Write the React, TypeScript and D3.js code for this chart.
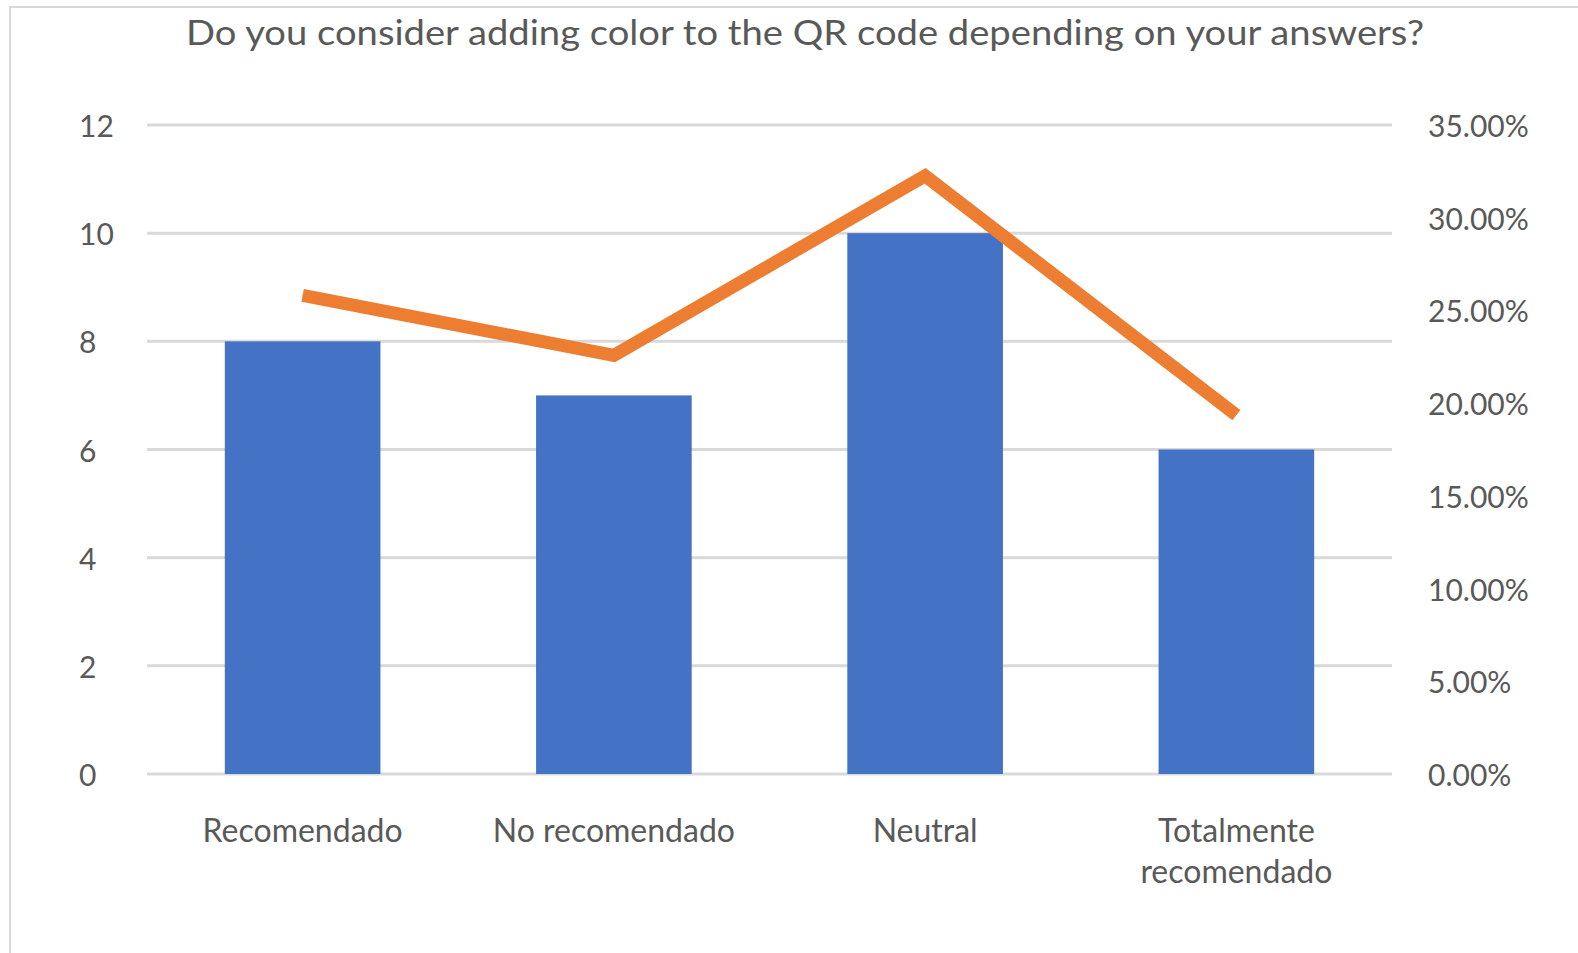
import React from "react";
import * as d3 from "d3";

const categories: string[][] = [["Recomendado"], ["No recomendado"], ["Neutral"], ["Totalmente", "recomendado"]];
const counts: number[] = [8, 7, 10, 6];
const percents: number[] = [0.2581, 0.2258, 0.3226, 0.1935];
const leftTicks: number[] = [0, 2, 4, 6, 8, 10, 12];
const rightTicks: number[] = [0, 0.05, 0.1, 0.15, 0.2, 0.25, 0.3, 0.35];
const title = "Do you consider adding color to the QR code depending on your answers?";

export default function App() {
  const W = 1578, H = 953;
  const left = 147, right = 1392, top = 125, bottom = 774;
  const x = d3.scaleBand<number>().domain(d3.range(categories.length)).range([left, right]).paddingInner(0.5).paddingOuter(0.25);
  const yL = d3.scaleLinear().domain([0, 12]).range([bottom, top]);
  const yR = d3.scaleLinear().domain([0, 0.35]).range([bottom, top]);
  const line = d3.line<number>().x((_, i) => (x(i) as number) + x.bandwidth() / 2).y((d) => yR(d));
  const font = "Lato, 'Open Sans', sans-serif";
  const txt = "#595959";
  return (
    <svg width={W} height={H} style={{ position: "fixed", left: 0, top: 0, background: "#fff" }}>
      <rect x={0} y={0} width={W} height={H} fill="#fff" />
      <rect x={10} y={7} width={W + 20} height={H + 20} fill="none" stroke="#d9d9d9" strokeWidth={2} />
      <text x={805} y={45} textAnchor="middle" fontFamily={font} fontSize={35} fill={txt} textLength={1238} lengthAdjust="spacingAndGlyphs">{title}</text>
      {leftTicks.map((t) => (
        <line key={"g" + t} x1={left} x2={right} y1={yL(t)} y2={yL(t)} stroke="#d9d9d9" strokeWidth={3} />
      ))}
      {leftTicks.map((t) => (
        <text key={"l" + t} x={79} y={yL(t) + 12} textAnchor="start" fontFamily={font} fontSize={30} fill={txt}>{t}</text>
      ))}
      {rightTicks.map((t) => (
        <text key={"r" + t} x={1428} y={yR(t) + 12} textAnchor="start" fontFamily={font} fontSize={30} fill={txt}>{d3.format(".2%")(t)}</text>
      ))}
      {counts.map((c, i) => (
        <rect key={"b" + i} x={x(i)} y={yL(c)} width={x.bandwidth()} height={yL(0) - yL(c)} fill="#4472C4" />
      ))}
      <path d={line(percents) || ""} fill="none" stroke="#ED7D31" strokeWidth={13} strokeLinejoin="miter" strokeLinecap="butt" />
      {categories.map((lines, i) => (
        <text key={"c" + i} textAnchor="middle" fontFamily={font} fontSize={32} fill={txt}>
          {lines.map((s, j) => (
            <tspan key={j} x={(x(i) as number) + x.bandwidth() / 2} y={842 + j * 41}>{s}</tspan>
          ))}
        </text>
      ))}
    </svg>
  );
}
